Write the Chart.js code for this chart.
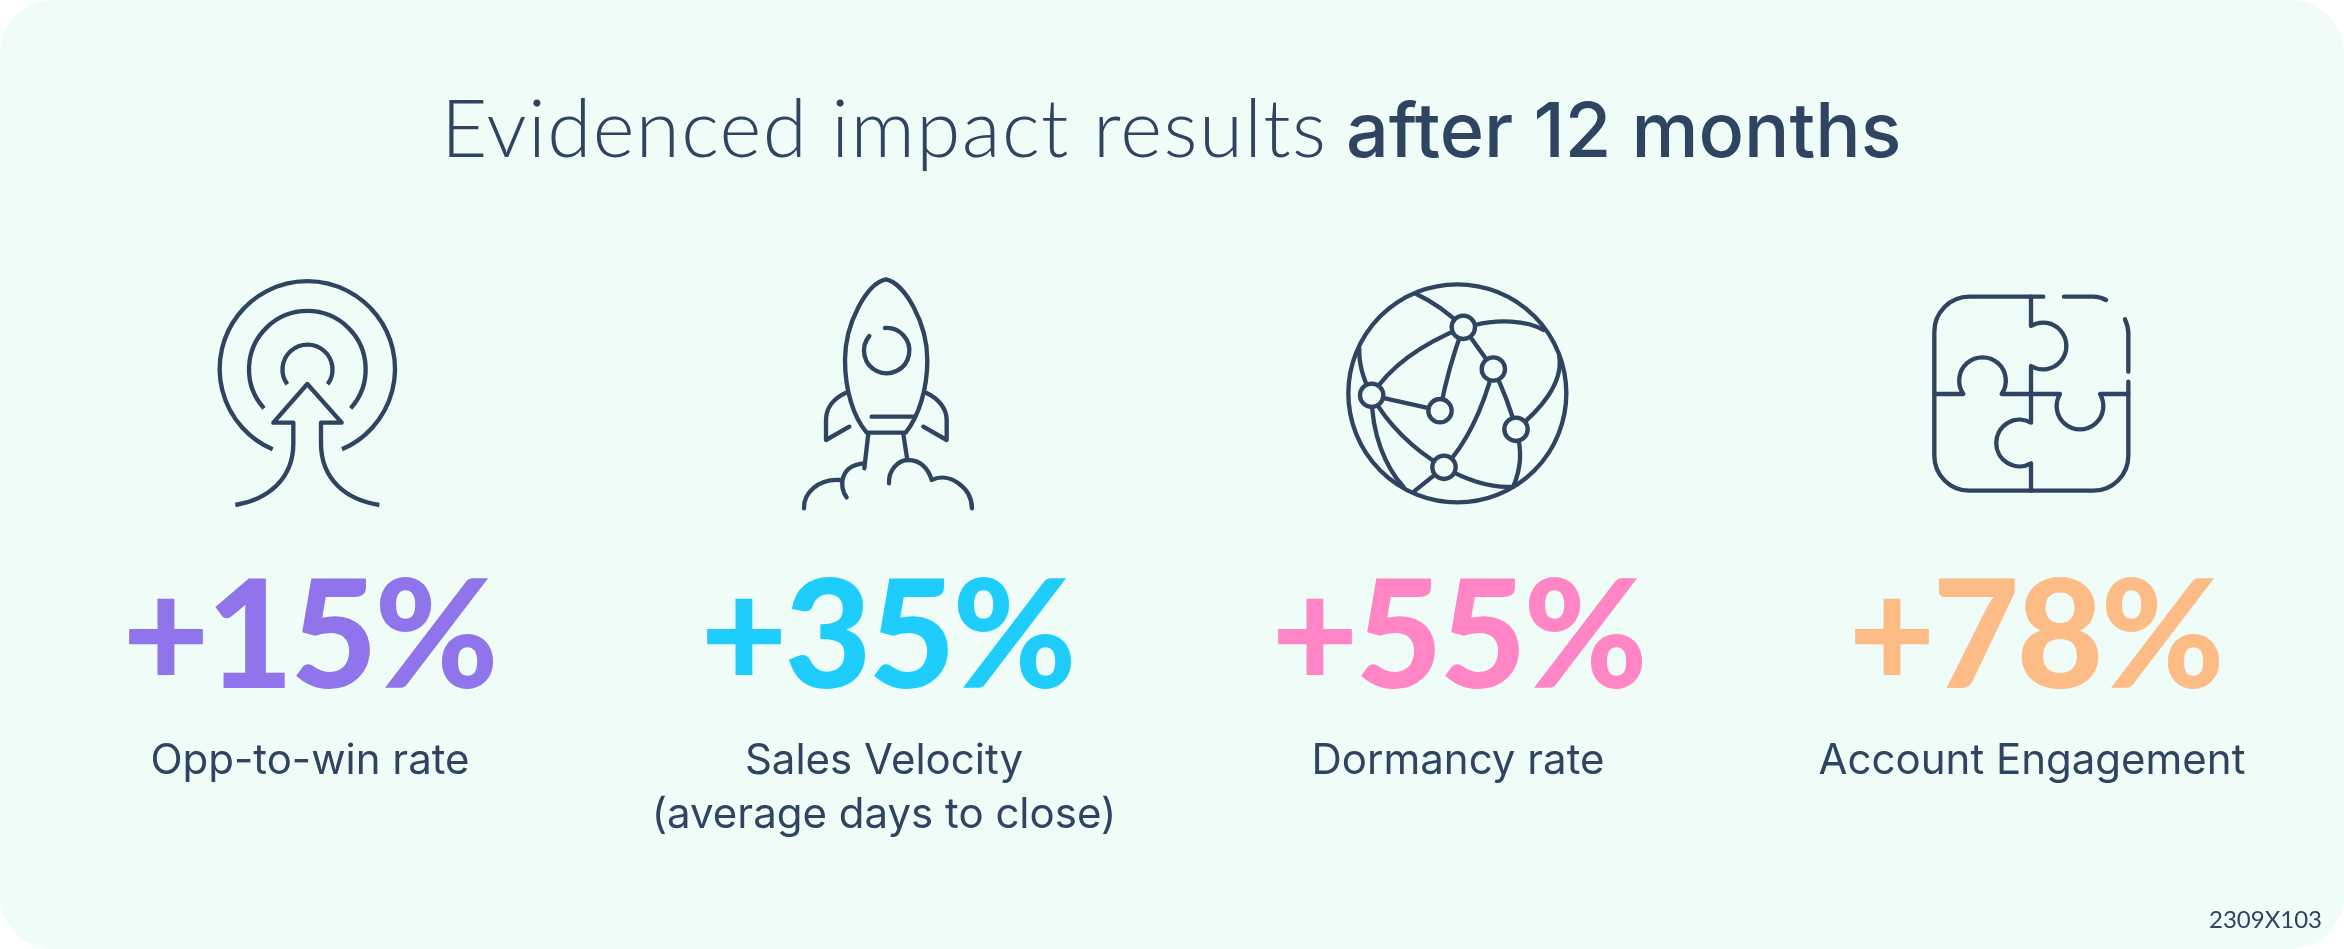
<!DOCTYPE html>
<html>
<head>
<meta charset="utf-8">
<title>Evidenced impact results</title>
<script src="https://cdn.jsdelivr.net/npm/chart.js@4"></script>
<style>
html,body{margin:0;padding:0;background:#fff;overflow:hidden}
canvas{display:block}
</style>
</head>
<body>
<canvas id="impactChart" width="2344" height="949"></canvas>
<script>
const categories=['Opp-to-win rate',['Sales Velocity','(average days to close)'],'Dormancy rate','Account Engagement']
const upliftValues=[15,35,55,78]
const barColors=['#9074eb','#1fcdfd','#ff85c4','#fdbc85']
const titleLight='Evidenced impact results'
const titleBold='after 12 months'
const footnote='2309X103'

const ink='#2e4460'
const panel='#effcf8'
const numberNudge=[-1,3,0,3]

// icon outlines, in 3x units with cx the icon middle and top the offset of the crop
const icons=[
  {cx:480,top:250,width:13,cap:'butt',paths:[
    'M368 598A263 263 0 1 1 576 598',
    'M342 475A175 175 0 1 1 602 475',
    'M412 403A75 75 0 1 1 533 403',
    'M256 765C350 750 430 690 430 580L430 518L370 518L472 402L575 518L513 518L513 580C513 690 590 750 688 765'
  ]},
  {cx:432,top:250,width:13,cap:'round',paths:[
    'M438 88C380 100 315 220 315 330C315 420 340 500 380 548L497 548C535 500 562 420 562 330C562 220 495 100 438 88Z',
    'M388 258A68 68 0 1 0 435 234',
    'M395 500L525 500',
    'M318 428C280 445 258 475 258 510L258 570L328 530',
    'M558 428C595 445 620 475 620 510L620 570L550 530',
    'M385 550L373 655',
    'M490 552L502 630',
    'M192 775C190 730 235 685 300 690',
    'M320 742C295 710 300 645 373 640',
    'M447 700C445 660 475 630 505 630C540 630 565 655 575 690C625 665 695 710 696 775'
  ]},
  {cx:414,top:260,width:13,cap:'round',paths:[
    'M739 400A327 327 0 1 1 85 400A327 327 0 1 1 739 400Z',
    'M290 103Q360 135 430 202',
    'M465 195C530 178 620 180 670 210',
    'M118 265Q115 330 155 406',
    'M155 406C210 320 310 250 430 202',
    'M430 202Q385 320 360 452',
    'M155 406L360 452',
    'M430 202L520 327',
    'M520 327Q565 420 588 508',
    'M520 327C490 440 440 550 372 622',
    'M155 406C200 490 280 570 372 622',
    'M155 406C155 520 195 620 250 680',
    'M372 622L285 692',
    'M372 622C440 660 510 685 580 680',
    'M588 508C610 580 600 630 580 680',
    'M588 508C660 450 730 370 718 290'
  ],nodes:[[430,202],[520,327],[588,508],[372,622],[360,452],[155,406]]},
  {cx:396,top:270,width:13,cap:'round',paths:[
    'M430 80L208 80A105 105 0 0 0 103 185L103 557A105 105 0 0 0 208 662L580 662A105 105 0 0 0 685 557L685 335',
    'M492 80L580 80Q600 80 618 90',
    'M675 148Q685 170 685 190L685 305',
    'M393 80L393 168A70 70 0 1 1 393 288L393 458A70 70 0 1 0 393 580L393 662',
    'M103 372L190 372A70 70 0 1 1 305 372L480 372A70 70 0 1 0 600 372L685 372'
  ]}
]

const infographic={
  id:'infographic',
  beforeDraw(chart){
    const c=chart.ctx
    c.save()
    c.fillStyle=panel
    c.beginPath()
    c.roundRect(0,0,2344,949,54)
    c.fill()
    c.restore()
  },
  afterDraw(chart){
    const c=chart.ctx
    const points=chart.getDatasetMeta(0).data
    c.save()
    c.textBaseline='alphabetic'
    c.fillStyle=ink

    // title in two weights
    c.textAlign='left'
    c.letterSpacing='1.4px'
    c.font='300 80px Lato'
    c.fillText(titleLight,441,157)
    c.letterSpacing='0px'
    c.font='500 75.5px Inter'
    c.fillText(titleBold,1346,157)

    c.font='400 24px Lato'
    c.textAlign='right'
    c.fillText(footnote,2322,928)

    // big numbers
    c.textAlign='center'
    c.letterSpacing='-3px'
    c.font='900 150px Lato'
    upliftValues.forEach((v,i)=>{
      c.fillStyle=barColors[i]
      c.fillText('+'+v+'%',points[i].x+numberNudge[i],688)
    })
    c.letterSpacing='0px'

    // icons follow the category positions
    icons.forEach((icon,i)=>{
      c.save()
      c.translate(points[i].x-icon.cx/3,icon.top)
      c.scale(1/3,1/3)
      c.strokeStyle=ink
      c.lineWidth=icon.width
      c.lineCap=icon.cap
      c.lineJoin='round'
      icon.paths.forEach(d=>c.stroke(new Path2D(d)))
      if(icon.nodes){
        c.fillStyle=panel
        icon.nodes.forEach(n=>{
          c.beginPath()
          c.arc(n[0],n[1],35,0,Math.PI*2)
          c.fill()
          c.stroke()
        })
      }
      c.restore()
    })
    c.restore()
  }
}

new Chart(document.getElementById('impactChart'),{
  type:'line',
  data:{
    labels:categories,
    datasets:[{
      label:'Uplift (%)',
      data:upliftValues,
      showLine:false,
      pointRadius:0,
      borderColor:barColors,
      backgroundColor:barColors
    }]
  },
  options:{
    responsive:false,
    animation:false,
    devicePixelRatio:1,
    layout:{padding:{left:23,right:25,top:10,bottom:107}},
    plugins:{legend:{display:false},tooltip:{enabled:false}},
    scales:{
      x:{
        offset:true,
        grid:{display:false},
        border:{display:false},
        ticks:{
          color:ink,
          padding:0,
          maxRotation:0,
          autoSkip:false,
          font:{family:'Inter',size:42,weight:'400',lineHeight:1.28}
        }
      },
      y:{display:false,min:0,max:100}
    }
  },
  plugins:[infographic]
})
</script>
</body>
</html>
